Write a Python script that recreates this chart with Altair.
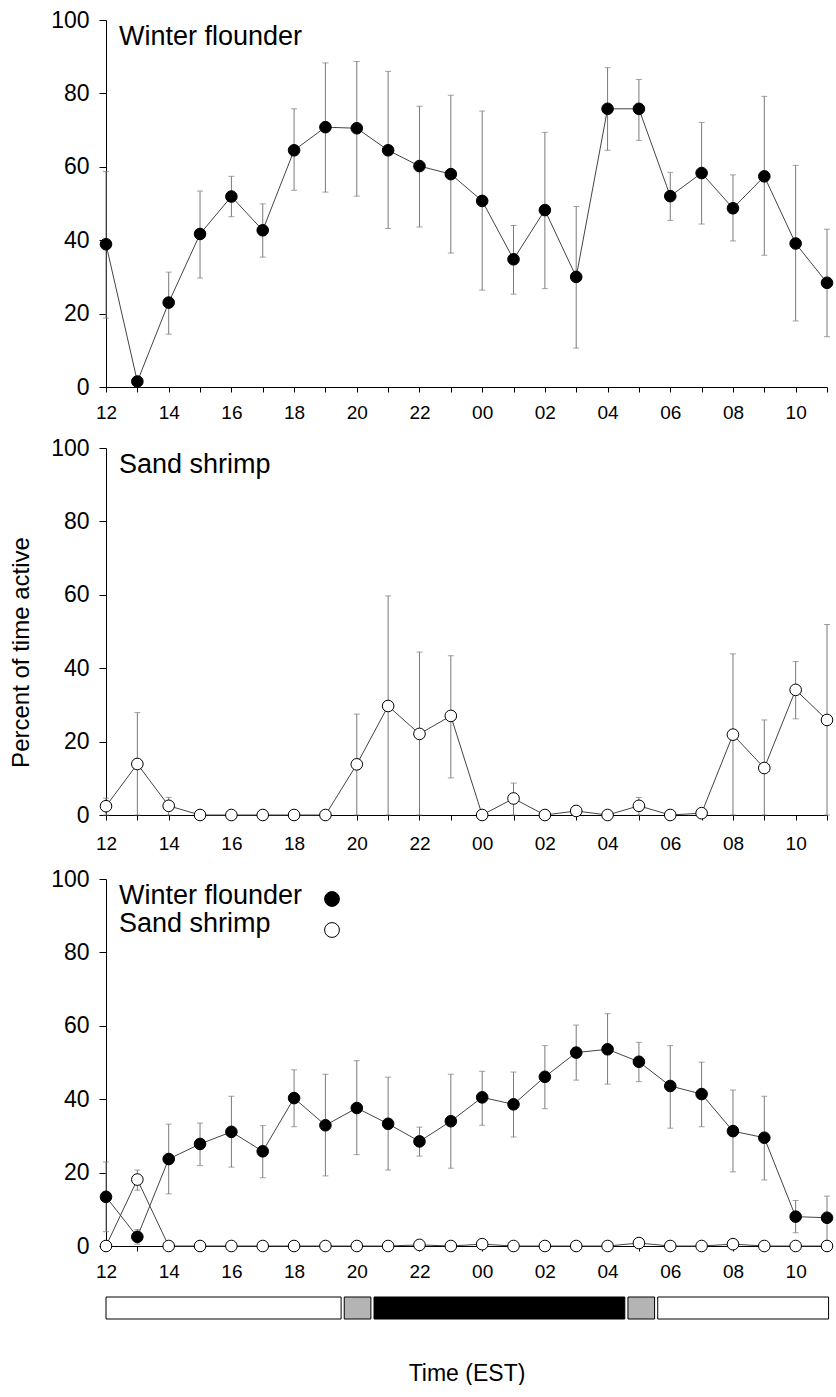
import altair as alt
import pandas as pd

# ---------------- data ----------------
hour_idx = list(range(24))
tick_labels = ["12", "", "14", "", "16", "", "18", "", "20", "", "22", "",
               "00", "", "02", "", "04", "", "06", "", "08", "", "10", ""]

# Panel 1: winter flounder alone
wf_mean = [38.9, 1.5, 23.0, 41.7, 51.9, 42.7, 64.5, 70.8, 70.5, 64.5, 60.2, 58.0,
           50.7, 34.8, 48.2, 30.0, 75.8, 75.8, 52.0, 58.3, 48.7, 57.4, 39.1, 28.4]
wf_lo = [18.8, 1.5, 14.4, 29.7, 46.4, 35.4, 53.6, 53.1, 52.0, 43.2, 43.6, 36.5,
         26.4, 25.3, 26.8, 10.6, 64.5, 67.2, 45.4, 44.4, 39.8, 35.9, 18.0, 13.7]
wf_hi = [58.7, 1.5, 31.3, 53.4, 57.4, 49.9, 75.8, 88.3, 88.7, 86.0, 76.5, 79.5,
         75.2, 44.0, 69.4, 49.2, 87.0, 83.8, 58.5, 72.1, 57.8, 79.2, 60.4, 43.0]

# Panel 2: sand shrimp alone
ss_mean = [2.4, 13.9, 2.5, 0, 0, 0, 0, 0, 13.8, 29.7, 22.1, 27.0,
           0, 4.5, 0, 1.1, 0, 2.5, 0, 0.5, 21.9, 12.8, 34.1, 25.9]
ss_lo = [0, 0, 0, 0, 0, 0, 0, 0, 0, 0, 0, 10.1,
         0, 0, 0, 0, 0, 0, 0, 0, 0, 0, 26.2, 0]
ss_hi = [4.6, 27.9, 4.8, 0, 0, 0, 0, 0, 27.5, 59.7, 44.4, 43.4,
         0, 8.7, 0, 1.8, 0, 4.8, 0, 0.8, 43.9, 25.9, 41.8, 51.9]

# Panel 3: together
wf2_mean = [13.4, 2.5, 23.7, 27.8, 31.1, 25.8, 40.3, 32.9, 37.6, 33.3, 28.5, 34.0,
            40.5, 38.6, 46.1, 52.7, 53.6, 50.2, 43.6, 41.4, 31.3, 29.5, 8.0, 7.7]
wf2_lo = [3.9, 0.5, 14.2, 21.9, 21.5, 18.6, 32.5, 19.1, 24.9, 20.7, 24.5, 21.2,
          32.9, 29.7, 37.4, 45.2, 44.1, 44.8, 32.1, 32.5, 20.2, 18.0, 3.6, 0]
wf2_hi = [22.9, 4.5, 33.2, 33.5, 40.8, 32.8, 48.0, 46.8, 50.5, 46.0, 32.4, 46.8,
          47.6, 47.4, 54.6, 60.2, 63.3, 55.5, 54.6, 50.1, 42.5, 40.8, 12.4, 13.6]
ss2_mean = [0, 18.1, 0, 0, 0, 0, 0, 0, 0, 0, 0.3, 0,
            0.5, 0, 0, 0, 0, 0.8, 0, 0, 0.5, 0, 0, 0]
ss2_lo = [0, 15.2, 0, 0, 0, 0, 0, 0, 0, 0, 0.3, 0,
          0.5, 0, 0, 0, 0, 0.8, 0, 0, 0.5, 0, 0, 0]
ss2_hi = [0, 20.7, 0, 0, 0, 0, 0, 0, 0, 0, 0.3, 0,
          0.5, 0, 0, 0, 0, 0.8, 0, 0, 0.5, 0, 0, 0]

# light/dark bar (hour index units)
bar_start = [0.0, 7.6, 8.55, 16.65, 17.6]
bar_end = [7.5, 8.45, 16.55, 17.5, 23.05]
bar_fill = ["white", "#b4b4b4", "black", "#b4b4b4", "white"]

legend_labels = ["Winter flounder", "Sand shrimp"]

# ---------------- chart ----------------
W, H = 721, 367
label_expr = "[" + ",".join("'%s'" % t for t in tick_labels) + "][datum.value]"
xscale = alt.Scale(domain=[0, 23], nice=False, zero=False)
yscale = alt.Scale(domain=[0, 100], nice=False)


def x_axis(pad):
    return alt.Axis(values=hour_idx, labelExpr=label_expr, title=None, tickSize=5,
                    labelPadding=pad, labelFontSize=19, grid=False, labelFlush=False,
                    domainColor="black", tickColor="black", labelColor="black")


def y_axis(title):
    kw = dict(values=[0, 20, 40, 60, 80, 100], tickSize=7, labelPadding=10,
              labelFontSize=23, grid=False, domainColor="black", tickColor="black",
              labelColor="black", labelFlush=False)
    if title:
        kw.update(title=title, titleFontSize=24, titleFontWeight="normal",
                  titlePadding=17, titleY=204, titleColor="black")
    else:
        kw.update(title=None)
    return alt.Axis(**kw)


def series_layers(mean, lo, hi, filled, xax, yax):
    df = pd.DataFrame({"x": hour_idx, "mean": mean, "lo": lo, "hi": hi})
    err = df[df["hi"] > df["lo"]]
    X = alt.X("x:Q", scale=xscale, axis=xax)

    def Y(f):
        return alt.Y(f, scale=yscale, axis=yax)

    rule = alt.Chart(err).mark_rule(color="#7a7a7a", strokeWidth=1).encode(
        x=X, y=Y("lo:Q"), y2="hi:Q")
    cap_hi = alt.Chart(err).mark_tick(orient="horizontal", size=6, thickness=1,
                                      color="#7a7a7a").encode(x=X, y=Y("hi:Q"))
    cap_lo = alt.Chart(err).mark_tick(orient="horizontal", size=6, thickness=1,
                                      color="#7a7a7a").encode(x=X, y=Y("lo:Q"))
    line = alt.Chart(df).mark_line(color="#444444", strokeWidth=1).encode(
        x=X, y=Y("mean:Q"))
    pts = alt.Chart(df).mark_point(shape="circle", filled=True, size=135, opacity=1,
                                   fill="black" if filled else "white",
                                   stroke="black", strokeWidth=1).encode(
        x=X, y=Y("mean:Q"))
    return [rule, cap_hi, cap_lo, line, pts]


def label_text(text, y, size=27):
    return alt.Chart(pd.DataFrame({"t": [text]})).mark_text(
        align="left", baseline="alphabetic", fontSize=size, color="black").encode(
        text="t:N", x=alt.value(13), y=alt.value(y))


ax_plain = y_axis(None)
ax_title = y_axis("Percent of time active")

p1 = alt.layer(*series_layers(wf_mean, wf_lo, wf_hi, True, x_axis(11), ax_plain),
               label_text("Winter flounder", 25)).properties(width=W, height=H)

p2 = alt.layer(*series_layers(ss_mean, ss_lo, ss_hi, False, x_axis(14), ax_title),
               label_text("Sand shrimp", 25)).properties(width=W, height=H)

leg_pts = []
for lab, yy, fill in [(legend_labels[0], 20, "black"), (legend_labels[1], 51, "white")]:
    leg_pts.append(alt.Chart(pd.DataFrame({"t": [lab]})).mark_point(
        shape="circle", filled=True, size=220, opacity=1, fill=fill, stroke="black",
        strokeWidth=1).encode(x=alt.value(226), y=alt.value(yy)))

x3 = x_axis(11)
p3 = alt.layer(*series_layers(wf2_mean, wf2_lo, wf2_hi, True, x3, ax_plain),
               *series_layers(ss2_mean, ss2_lo, ss2_hi, False, x3, ax_plain),
               label_text(legend_labels[0], 25), label_text(legend_labels[1], 53),
               *leg_pts).properties(width=W, height=H)

bar_df = pd.DataFrame({"start": bar_start, "end": bar_end, "fill": bar_fill})
bar = alt.Chart(bar_df).mark_rect(stroke="black", strokeWidth=1).encode(
    x=alt.X("start:Q", scale=xscale,
            axis=alt.Axis(title="Time (EST)", labels=False, ticks=False, domain=False,
                          grid=False, titleFontSize=23, titleFontWeight="normal",
                          titlePadding=43, titleColor="black")),
    x2="end:Q",
    fill=alt.Fill("fill:N", scale=None)).properties(width=W, height=22)

chart = alt.vconcat(p1, p2, p3, bar, spacing=15).properties(
    padding={"left": 9, "top": 9, "right": 0, "bottom": 0}
).configure(font="Liberation Sans").configure_view(stroke=None)

chart.save("out.html", embed_options={"renderer": "svg", "actions": False})
